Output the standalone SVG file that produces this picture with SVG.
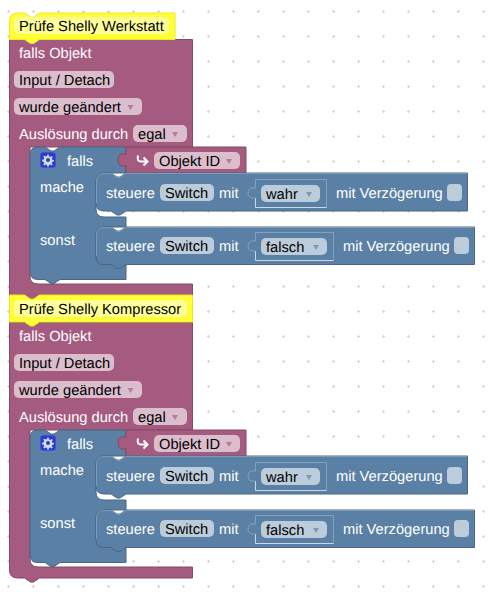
<svg xmlns="http://www.w3.org/2000/svg" width="495" height="595" viewBox="0 0 495 595">
<style>
text{font-family:"Liberation Sans",Arial,sans-serif;font-size:14.67px;fill:#000;white-space:pre;text-rendering:geometricPrecision}
text.w{fill:#fff}
.p{fill:#a55b80;stroke:#844966;stroke-width:1}
.b{fill:#5b80a5;stroke:#496684;stroke-width:1}
.y{fill:#ffff33;stroke:#e8e830;stroke-width:1}
.yf{fill:#ffff99}
.pf{fill:#dbbdcc}
.bf{fill:#bdccdb}
.pt{fill:#b97b99}
.bt{fill:#7b99b7}
.hl{fill:none;stroke:#7d9bb9;stroke-width:1}
.sh{fill:none;stroke:#84a0bc;stroke-width:1}
.sw{fill:none;stroke:#ccd8e4;stroke-width:1}
.arr{fill:none;stroke:#fff;stroke-width:2}
</style>
<defs>
<pattern id="grid" width="25" height="25" patternUnits="userSpaceOnUse">
<path d="M7 11.500H10M8.500 10V13" stroke="#d4d4d4" stroke-width="1" fill="none"/>
</pattern>
<path id="gear" d="M8 3.2l1.2 0 .4 1.7 1.3.6 1.5-.9.9.9-.9 1.5.5 1.3 1.7.4v1.2l-1.7.4-.5 1.3.9 1.5-.9.9-1.5-.9-1.3.5-.4 1.7H8l-.4-1.7-1.3-.5-1.5.9-.9-.9.9-1.5-.5-1.3-1.7-.4V8.400l1.700-.4.5-1.300-.9-1.500.9-.9 1.500.9 1.300-.6z" transform="translate(-.6,-.6)"/>
</defs>
<rect width="495" height="595" fill="#fff"/>
<rect width="495" height="595" fill="url(#grid)"/>

<g id="trigger-1">
<path class="p" d="M9.500 39.500H192.500V147H30V276Q30 284 38 284H192.500V295H39.500l-6 4h-3l-6-4H9.500Z"/>
<text class="w" x="19" y="58">falls Objekt</text>
<rect class="pf" x="14" y="71" width="100" height="17" rx="5"/>
<text x="19" y="85">Input / Detach</text>
<rect class="pf" x="14" y="98" width="128" height="17" rx="5"/>
<text x="19" y="112">wurde geändert</text>
<path class="pt" d="M127.500 105h6l-3 5z"/>
<text class="w" x="19" y="139">Auslösung durch</text>
<rect class="pf" x="133" y="125" width="54" height="17" rx="5"/>
<text x="138" y="139">egal</text>
<path class="pt" d="M172 132h6l-3 5z"/>
</g>
<g id="if-1">
<path class="b" d="M30 155Q30 147 38 147H45l6 4h3l6-4H126V173H104Q96 173 96 181V209Q96 217 104 217H126V227H104Q96 227 96 235V256.500Q96 264.500 104 264.500H126V279.500H60l-6 4h-3l-6-4H38Q30 279.500 30 271.500Z"/>
<rect x="40" y="152" width="16" height="16" rx="3" fill="#2b3dcc" stroke="#5f74d8" stroke-width=".8"/>
<use href="#gear" transform="translate(40,152)" fill="#d4dcf2"/>
<circle cx="48" cy="160" r="2" fill="#2b3dcc"/>
<text class="w" x="67" y="166">falls</text>
<text class="w" x="40" y="192">mache</text>
<text class="w" x="40" y="245">sonst</text>
</g>
<g id="objekt-1">
<path class="p" d="M126 147H246V173.500H126V165.500Q123 167 120.500 166Q118 164.500 118 160Q118 155.500 120.500 154Q123 153 126 154.500Z"/>
<path class="arr" d="M138 155.500Q136.500 161.500 141 161.500H147M143.500 157.500L147.500 161.500L143.500 165.500"/>
<rect class="pf" x="154" y="152" width="86" height="17" rx="5"/>
<text x="159" y="166">Objekt ID</text>
<path class="pt" d="M226 159h6l-3 5z"/>
</g>
<g id="then-1">
<path class="b" d="M104 173H111l6 4h3l6-4H467.500V211H126l-6 4h-3l-6-4H104Q96 211 96 203V181Q96 173 104 173Z"/>
<path class="hl" d="M96.500 203V181Q96.500 173.500 104 173.500H111l6 4h3l6-4H467"/>
<text class="w" x="106" y="198">steuere</text>
<rect class="bf" x="160" y="184" width="54" height="17" rx="5"/>
<text x="165" y="198">Switch</text>
<text class="w" x="219" y="198">mit</text>
<path class="sh" d="M255.500 188V179.500H326.500V207.500"/>
<path class="sw" d="M255.500 198V207.500H326.500"/>
<path class="sh" d="M255.500 188H251Q248 189 248 193Q248 197 251 198H255.500"/>
<rect class="bf" x="261" y="185" width="59" height="17" rx="5"/>
<text x="266" y="199">wahr</text>
<path class="bt" d="M306 192h6l-3 5z"/>
<text class="w" x="336" y="198">mit Verzögerung</text>
<rect class="bf" x="447" y="184" width="15" height="17" rx="4"/>
</g>
<g id="else-1">
<path class="b" d="M104 227H111l6 4h3l6-4H474.500V264.500H126l-6 4h-3l-6-4H104Q96 264.500 96 256.500V235Q96 227 104 227Z"/>
<path class="hl" d="M96.500 256V235Q96.500 227.500 104 227.500H111l6 4h3l6-4H474"/>
<text class="w" x="106" y="251">steuere</text>
<rect class="bf" x="160" y="237" width="54" height="17" rx="5"/>
<text x="165" y="251">Switch</text>
<text class="w" x="219" y="251">mit</text>
<path class="sh" d="M255.500 241V232.500H333.500V260.500"/>
<path class="sw" d="M255.500 251V260.500H333.500"/>
<path class="sh" d="M255.500 241H251Q248 242 248 246Q248 250 251 251H255.500"/>
<rect class="bf" x="261" y="238" width="66" height="17" rx="5"/>
<text x="266" y="252">falsch</text>
<path class="bt" d="M313 245h6l-3 5z"/>
<text class="w" x="343" y="251">mit Verzögerung</text>
<rect class="bf" x="454" y="237" width="15" height="17" rx="4"/>
</g>
<g id="comment-1">
<path class="y" d="M9.500 39.500V21Q9.500 13 17.500 13H24.500l6 4h3l6-4H175V39.500H39.500l-6 4h-3l-6-4Z"/>
<rect class="yf" x="14" y="17" width="155" height="17" rx="5"/>
<text x="19" y="31">Prüfe Shelly Werkstatt</text>
</g>

<g id="trigger-2" transform="translate(0,283)">
<path class="p" d="M9.500 39.500H192.500V147H30V276Q30 284 38 284H192.500V295H39.500l-6 4h-3l-6-4H17.500Q9.500 295 9.500 287Z"/>
<text class="w" x="19" y="58">falls Objekt</text>
<rect class="pf" x="14" y="71" width="100" height="17" rx="5"/>
<text x="19" y="85">Input / Detach</text>
<rect class="pf" x="14" y="98" width="128" height="17" rx="5"/>
<text x="19" y="112">wurde geändert</text>
<path class="pt" d="M127.500 105h6l-3 5z"/>
<text class="w" x="19" y="139">Auslösung durch</text>
<rect class="pf" x="133" y="125" width="54" height="17" rx="5"/>
<text x="138" y="139">egal</text>
<path class="pt" d="M172 132h6l-3 5z"/>
</g>
<g id="if-2" transform="translate(0,283)">
<path class="b" d="M30 155Q30 147 38 147H45l6 4h3l6-4H126V173H104Q96 173 96 181V209Q96 217 104 217H126V227H104Q96 227 96 235V256.500Q96 264.500 104 264.500H126V279.500H60l-6 4h-3l-6-4H38Q30 279.500 30 271.500Z"/>
<rect x="40" y="152" width="16" height="16" rx="3" fill="#2b3dcc" stroke="#5f74d8" stroke-width=".8"/>
<use href="#gear" transform="translate(40,152)" fill="#d4dcf2"/>
<circle cx="48" cy="160" r="2" fill="#2b3dcc"/>
<text class="w" x="67" y="166">falls</text>
<text class="w" x="40" y="192">mache</text>
<text class="w" x="40" y="245">sonst</text>
</g>
<g id="objekt-2" transform="translate(0,283)">
<path class="p" d="M126 147H246V173.500H126V165.500Q123 167 120.500 166Q118 164.500 118 160Q118 155.500 120.500 154Q123 153 126 154.500Z"/>
<path class="arr" d="M138 155.500Q136.500 161.500 141 161.500H147M143.500 157.500L147.500 161.500L143.500 165.500"/>
<rect class="pf" x="154" y="152" width="86" height="17" rx="5"/>
<text x="159" y="166">Objekt ID</text>
<path class="pt" d="M226 159h6l-3 5z"/>
</g>
<g id="then-2" transform="translate(0,283)">
<path class="b" d="M104 173H111l6 4h3l6-4H467.500V211H126l-6 4h-3l-6-4H104Q96 211 96 203V181Q96 173 104 173Z"/>
<path class="hl" d="M96.500 203V181Q96.500 173.500 104 173.500H111l6 4h3l6-4H467"/>
<text class="w" x="106" y="198">steuere</text>
<rect class="bf" x="160" y="184" width="54" height="17" rx="5"/>
<text x="165" y="198">Switch</text>
<text class="w" x="219" y="198">mit</text>
<path class="sh" d="M255.500 188V179.500H326.500V207.500"/>
<path class="sw" d="M255.500 198V207.500H326.500"/>
<path class="sh" d="M255.500 188H251Q248 189 248 193Q248 197 251 198H255.500"/>
<rect class="bf" x="261" y="185" width="59" height="17" rx="5"/>
<text x="266" y="199">wahr</text>
<path class="bt" d="M306 192h6l-3 5z"/>
<text class="w" x="336" y="198">mit Verzögerung</text>
<rect class="bf" x="447" y="184" width="15" height="17" rx="4"/>
</g>
<g id="else-2" transform="translate(0,283)">
<path class="b" d="M104 227H111l6 4h3l6-4H474.500V264.500H126l-6 4h-3l-6-4H104Q96 264.500 96 256.500V235Q96 227 104 227Z"/>
<path class="hl" d="M96.500 256V235Q96.500 227.500 104 227.500H111l6 4h3l6-4H474"/>
<text class="w" x="106" y="251">steuere</text>
<rect class="bf" x="160" y="237" width="54" height="17" rx="5"/>
<text x="165" y="251">Switch</text>
<text class="w" x="219" y="251">mit</text>
<path class="sh" d="M255.500 241V232.500H333.500V260.500"/>
<path class="sw" d="M255.500 251V260.500H333.500"/>
<path class="sh" d="M255.500 241H251Q248 242 248 246Q248 250 251 251H255.500"/>
<rect class="bf" x="261" y="238" width="66" height="17" rx="5"/>
<text x="266" y="252">falsch</text>
<path class="bt" d="M313 245h6l-3 5z"/>
<text class="w" x="343" y="251">mit Verzögerung</text>
<rect class="bf" x="454" y="237" width="15" height="17" rx="4"/>
</g>
<g id="comment-2">
<path class="y" d="M9.500 295H24.500l6 4h3l6-4H192.500V322H39.500l-6 4h-3l-6-4H9.500Z"/>
<rect class="yf" x="14" y="300" width="173" height="17" rx="5"/>
<text x="19" y="314">Prüfe Shelly Kompressor</text>
</g>
</svg>
